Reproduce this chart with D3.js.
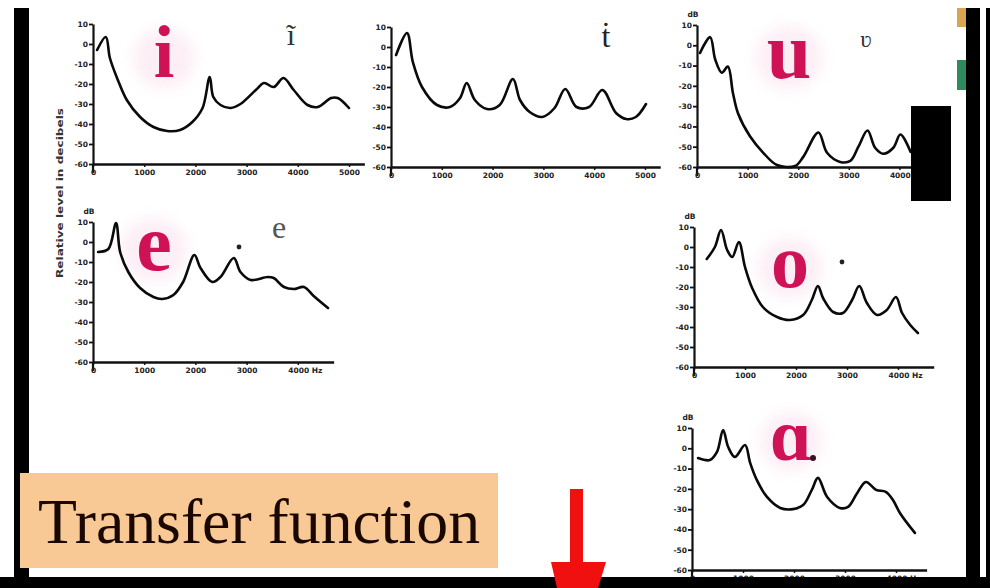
<!DOCTYPE html>
<html><head><meta charset="utf-8">
<script src="https://cdn.jsdelivr.net/npm/d3@7"></script>
<style>html,body{margin:0;padding:0;background:#fff;}svg{display:block;}</style>
</head><body>
<svg id="c" width="990" height="588"></svg>
<script>
// ---- data (frequency in Hz, relative level in dB) ----
const curveI = [[80,-3],[250,3.5],[330,-7],[470,-17],[660,-28],[920,-36.5],[1180,-41.5],[1450,-43.5],[1700,-43],[1940,-39],[2140,-32],[2280,-16.5],[2350,-26.5],[2490,-30.5],[2690,-32],[2880,-30],[3180,-23],[3340,-19.5],[3530,-21.5],[3720,-17],[3920,-23],[4190,-30.5],[4390,-31.5],[4650,-27],[4780,-27],[5000,-32]];
const curveT = [[100,-4],[315,7],[430,-7.5],[610,-20],[905,-29],[1160,-30],[1360,-25.5],[1490,-18],[1650,-26.5],[1890,-31],[2140,-29],[2400,-16],[2540,-26.5],[2730,-32.5],[2980,-35],[3220,-30.5],[3430,-21],[3650,-30],[3900,-30],[4160,-21.5],[4430,-33],[4630,-36],[4820,-35],[5020,-28.5]];
const curveU = [[60,-3.8],[260,4],[360,-7],[490,-13.5],[610,-10.5],[710,-23.5],[810,-33.5],[1050,-45],[1310,-53],[1580,-59],[1940,-59.5],[2100,-55],[2400,-43],[2570,-53],[2830,-57.5],[3030,-57],[3190,-50],[3370,-42],[3520,-50.5],[3680,-53.5],[3880,-50.5],[4020,-44],[4220,-52.5]];
const curveE = [[100,-5],[300,-3.5],[450,9.5],[530,-5],[690,-15],[920,-23],[1180,-27.5],[1350,-28.5],[1570,-26.5],[1760,-20],[1980,-6.5],[2100,-13],[2330,-20],[2490,-17.5],[2750,-8],[2880,-15],[3080,-19],[3410,-17.5],[3530,-18],[3730,-22.5],[3920,-23.5],[4120,-22.5],[4310,-27],[4590,-33]];
const curveO = [[250,-6],[410,0],[530,8.5],[650,-1.5],[750,-5],[880,2.5],[1000,-10],[1140,-20.5],[1350,-30],[1630,-35],[1880,-36.5],[2140,-34],[2310,-26.5],[2430,-19.5],[2530,-25.5],[2730,-32.5],[2920,-33],[3100,-26.5],[3240,-19.5],[3390,-28],[3590,-34],[3780,-31.5],[3960,-25],[4080,-33],[4240,-39],[4390,-43]];
const curveA = [[120,-4.8],[350,-5.8],[490,-1.8],[610,9],[710,0.6],[840,-4.3],[1040,1.6],[1140,-7.2],[1270,-15.6],[1470,-24],[1730,-29.4],[1980,-30],[2180,-28],[2350,-20.5],[2470,-14.6],[2650,-24],[2900,-29.4],[3060,-28.9],[3240,-22],[3410,-16.6],[3610,-20.5],[3800,-21.5],[3940,-25.5],[4080,-32],[4370,-41.7]];

const yTicks = [10,0,-10,-20,-30,-40,-50,-60];
const xTicks5 = [0,1000,2000,3000,4000,5000];
const xTicks4 = [0,1000,2000,3000,4000];
const vowelLabels = ["i","u","e","o","ɑ"];
const yTitle = "Relative level in decibels";
const captionText = "Transfer function";

// ---- layout ----
const panels = [
  {data:curveI, x0:93,  k:51.2, yT:24,  yB:164, xMax:5300, ticks:xTicks5, dB:false, hz:false},
  {data:curveT, x0:391, k:50.8, yT:27,  yB:167, xMax:5300, ticks:xTicks5, dB:false, hz:false},
  {data:curveU, x0:697, k:50.6, yT:25,  yB:167, xMax:4600, ticks:xTicks4, dB:true,  hz:true},
  {data:curveE, x0:93,  k:51.2, yT:222, yB:362, xMax:4700, ticks:xTicks4, dB:true,  hz:true},
  {data:curveO, x0:694, k:51,   yT:227, yB:367, xMax:4700, ticks:xTicks4, dB:true,  hz:true},
  {data:curveA, x0:692, k:51,   yT:428, yB:570, xMax:4600, ticks:xTicks4, dB:true,  hz:true}
];

const svg = d3.select("#c");
svg.append("rect").attr("width",990).attr("height",588).attr("fill","#fff");

const defs = svg.append("defs");
defs.append("filter").attr("id","glow").attr("x","-50%").attr("y","-50%").attr("width","200%").attr("height","200%")
  .append("feGaussianBlur").attr("stdDeviation",7);

// vowel letters (with soft halo)
const letterPos = [
  {x:164, y:77, s:74},
  {x:789, y:78, s:80},
  {x:154, y:270, s:80},
  {x:790, y:287, s:76},
  {x:791, y:460, s:74}
];
vowelLabels.forEach((t,i)=>{
  const p = letterPos[i];
  svg.append("ellipse").attr("cx",p.x).attr("cy",p.y-p.s*0.25).attr("rx",p.s*0.42).attr("ry",p.s*0.4)
    .attr("fill","#fbe3ef").attr("filter","url(#glow)").attr("opacity",0.6);
  svg.append("text").attr("x",p.x).attr("y",p.y).attr("text-anchor","middle")
    .attr("font-family","Liberation Serif, DejaVu Serif, serif").attr("font-weight","bold")
    .attr("font-size",p.s).attr("fill","#cf1256").text(t);
});

panels.forEach(p=>{
  const x = d3.scaleLinear().domain([0,p.xMax]).range([p.x0, p.x0 + p.xMax/1000*p.k]);
  const y = d3.scaleLinear().domain([-60,10]).range([p.yB, p.yT]);
  const g = svg.append("g");
  // y axis
  const ya = g.append("g").attr("transform",`translate(${p.x0},0)`)
    .call(d3.axisLeft(y).tickValues(yTicks).tickSize(4).tickSizeOuter(0).tickFormat(d=>String(d)));
  ya.select(".domain").attr("stroke","#111").attr("stroke-width",2.2);
  ya.selectAll(".tick line").attr("stroke","#111").attr("stroke-width",1.8);
  ya.selectAll(".tick text").attr("font-family","DejaVu Sans, sans-serif").attr("font-weight","bold")
    .attr("font-size",7.5).attr("fill","#222").attr("x",-5);
  g.append("line").attr("x1",p.x0).attr("x2",p.x0).attr("y1",p.yB).attr("y2",p.yB+9)
    .attr("stroke","#111").attr("stroke-width",2.2);
  if(p.dB){
    g.append("text").attr("x",p.x0-4).attr("y",p.yT-8).attr("text-anchor","middle")
      .attr("font-family","DejaVu Sans, sans-serif").attr("font-weight","bold").attr("font-size",7.5)
      .attr("fill","#222").text("dB");
  }
  // x axis
  const xa = g.append("g").attr("transform",`translate(0,${p.yB})`)
    .call(d3.axisBottom(x).tickValues(p.ticks).tickSize(3).tickSizeOuter(0)
      .tickFormat(d=> (p.hz && d===p.ticks[p.ticks.length-1]) ? d+" Hz" : d));
  xa.select(".domain").attr("stroke","#111").attr("stroke-width",2.6);
  xa.selectAll(".tick line").attr("stroke","#111").attr("stroke-width",1.5);
  xa.selectAll(".tick text").attr("font-family","DejaVu Sans, sans-serif").attr("font-weight","bold")
    .attr("font-size",7.5).attr("fill","#222").attr("y",6);
  if(p.hz){
    xa.selectAll(".tick text").filter(d=>d===p.ticks[p.ticks.length-1]).attr("text-anchor","start").attr("dx",-10);
  }
  // curve
  const line = d3.line().x(d=>x(d[0])).y(d=>y(d[1])).curve(d3.curveCatmullRom.alpha(0.5));
  g.append("path").datum(p.data).attr("d",line).attr("fill","none")
    .attr("stroke","#0a0a0a").attr("stroke-width",2.6).attr("stroke-linejoin","round").attr("stroke-linecap","round");
});

// y axis title
svg.append("text").attr("transform","translate(63,193) rotate(-90)").attr("text-anchor","middle")
  .attr("font-family","DejaVu Sans, sans-serif").attr("font-weight","bold").attr("font-size",8.5)
  .attr("fill","#333").attr("textLength",170).attr("lengthAdjust","spacingAndGlyphs").text(yTitle);

// small phonetic symbols
const smallSyms = [
  {t:"ĩ", x:291, y:45, s:30, c:"#333"},
  {t:"ṫ", x:606, y:47, s:32, c:"#222"},
  {t:"ʋ", x:866, y:47, s:24, c:"#333"},
  {t:"e", x:279, y:238, s:32, c:"#555"}
];
smallSyms.forEach(d=>{
  svg.append("text").attr("x",d.x).attr("y",d.y).attr("text-anchor","middle")
    .attr("font-family","Liberation Serif, DejaVu Serif, serif").attr("font-size",d.s).attr("fill",d.c).text(d.t);
});
[[239,247,2.4,"#222"],[842,262,2.4,"#222"],[813,458,3,"#3a1020"]].forEach(d=>{
  svg.append("circle").attr("cx",d[0]).attr("cy",d[1]).attr("r",d[2]).attr("fill",d[3]);
});

// frame pieces
svg.append("rect").attr("x",14).attr("y",8).attr("width",15).attr("height",580).attr("fill","#000");
svg.append("rect").attr("x",966).attr("y",8).attr("width",14).attr("height",580).attr("fill","#000");
svg.append("rect").attr("x",986).attr("y",8).attr("width",4).attr("height",580).attr("fill","#000");
svg.append("rect").attr("x",957).attr("y",8).attr("width",9).attr("height",19).attr("fill","#d9a552");
svg.append("rect").attr("x",957).attr("y",60).attr("width",9).attr("height",30).attr("fill","#2f8a5c");
svg.append("rect").attr("x",911).attr("y",106).attr("width",40).attr("height",95).attr("fill","#000");
svg.append("rect").attr("x",0).attr("y",577).attr("width",990).attr("height",11).attr("fill","#000");

// caption box
svg.append("rect").attr("x",20).attr("y",473).attr("width",478).attr("height",95).attr("fill","#f8c995");
svg.append("text").attr("x",38).attr("y",543)
  .attr("font-family","Liberation Serif, Times New Roman, serif").attr("font-size",64).attr("fill","#1a0800")
  .attr("textLength",442).attr("lengthAdjust","spacingAndGlyphs").text(captionText);

// red arrow
svg.append("rect").attr("x",570).attr("y",489).attr("width",13).attr("height",75).attr("fill","#f01010");
svg.append("polygon").attr("points","551,562 606,562 598,588 557,588").attr("fill","#f01010");
</script>
</body></html>
